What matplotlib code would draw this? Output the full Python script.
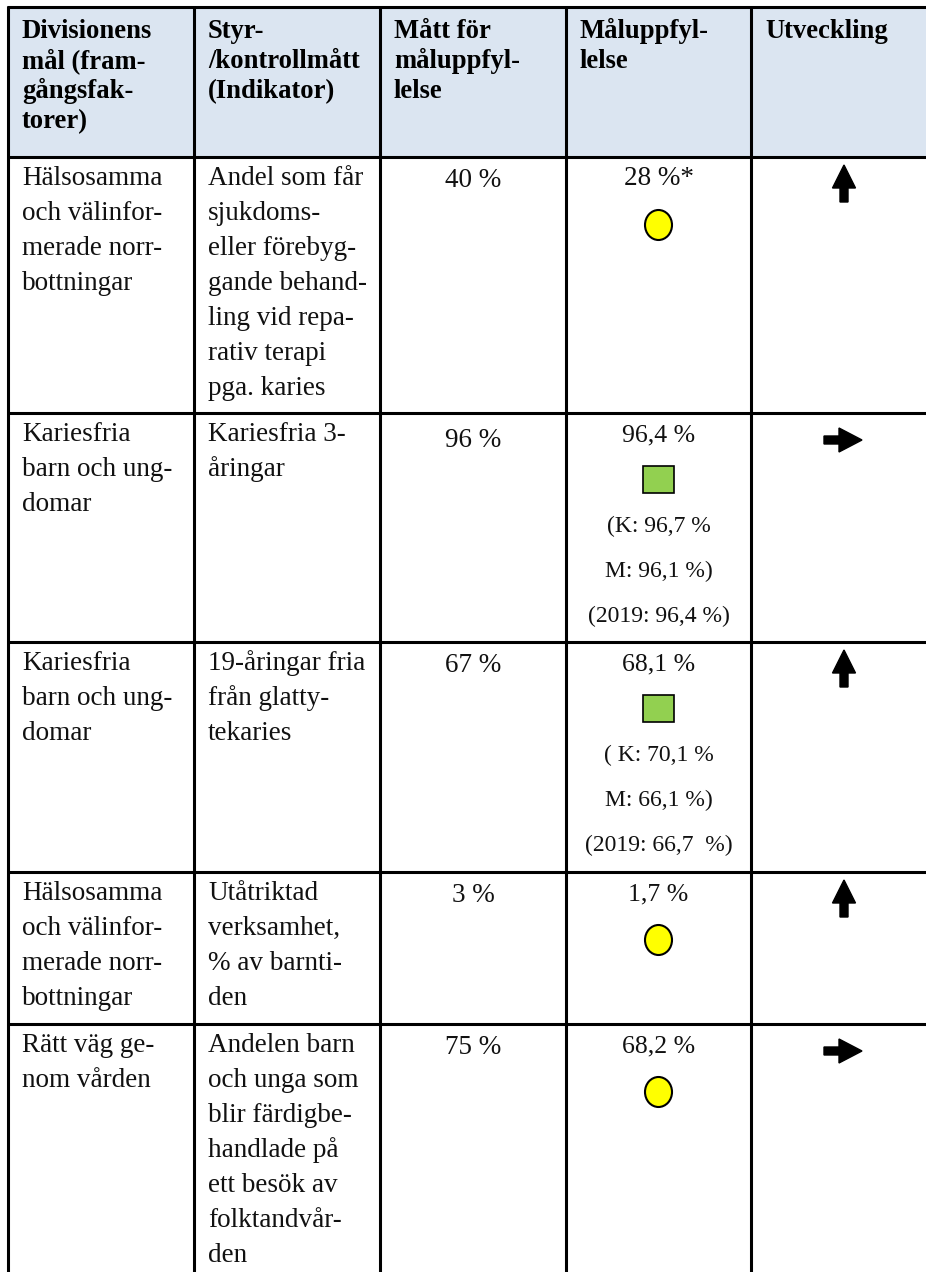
import matplotlib
matplotlib.use('Agg')
import matplotlib.pyplot as plt
from matplotlib.patches import Rectangle, Ellipse, FancyArrow

# table content
headers = [['Divisionens', 'mål (fram-', 'gångsfak-', 'torer)'],
           ['Styr-', '/kontrollmått', '(Indikator)'],
           ['Mått för', 'måluppfyl-', 'lelse'],
           ['Måluppfyl-', 'lelse'],
           ['Utveckling']]
goals = [['Hälsosamma', 'och välinfor-', 'merade norr-', 'bottningar'],
         ['Kariesfria', 'barn och ung-', 'domar'],
         ['Kariesfria', 'barn och ung-', 'domar'],
         ['Hälsosamma', 'och välinfor-', 'merade norr-', 'bottningar'],
         ['Rätt väg ge-', 'nom vården']]
indicators = [['Andel som får', 'sjukdoms-', 'eller förebyg-', 'gande behand-',
               'ling vid repa-', 'rativ terapi', 'pga. karies'],
              ['Kariesfria 3-', 'åringar'],
              ['19-åringar fria', 'från glatty-', 'tekaries'],
              ['Utåtriktad', 'verksamhet,', '% av barnti-', 'den'],
              ['Andelen barn', 'och unga som', 'blir färdigbe-', 'handlade på',
               'ett besök av', 'folktandvår-', 'den']]
targets = ['40 %', '96 %', '67 %', '3 %', '75 %']
results = ['28 %*', '96,4 %', '68,1 %', '1,7 %', '68,2 %']
details = [[], ['(K: 96,7 %', 'M: 96,1 %)', '(2019: 96,4 %)'],
           ['( K: 70,1 %', 'M: 66,1 %)', '(2019: 66,7  %)'], [], []]
status = ['circle', 'square', 'square', 'circle', 'circle']
trend = ['up', 'right', 'up', 'up', 'right']

# layout in pixels
W, H = 926, 1272
col_x = [8, 194, 380, 566, 751, 937]
row_y = [7, 157, 413, 642, 872, 1024, 1290]
pad = 14
serif = ['Liberation Serif', 'DejaVu Serif']
body_fs = 19.5
head_fs = 19.2
res_fs = 18.5
det_fs = 17
body_lh = 35
head_lh = 30

fig = plt.figure(figsize=(W / 100, H / 100), dpi=100)
ax = fig.add_axes([0, 0, 1, 1])
ax.set_xlim(0, W)
ax.set_ylim(H, 0)
ax.axis('off')

ax.add_patch(Rectangle((col_x[0], row_y[0]), col_x[-1] - col_x[0], row_y[1] - row_y[0],
                       facecolor='#dbe5f1', edgecolor='none', zorder=0))

lw = 2.2
for y in row_y[:-1]:
    ax.plot([col_x[0] - 1.5, col_x[-1]], [y, y], color='black', lw=lw, solid_capstyle='butt')
for x in col_x[:-1]:
    ax.plot([x, x], [row_y[0] - 1.5, row_y[-1]], color='black', lw=lw, solid_capstyle='butt')

# header
for c, lines in enumerate(headers):
    for k, s in enumerate(lines):
        ax.text(col_x[c] + pad, row_y[0] + 31 + k * head_lh, s, fontsize=head_fs,
                family=serif, fontweight='bold', va='baseline', ha='left')

for r in range(5):
    top = row_y[r + 1]
    for k, s in enumerate(goals[r]):
        ax.text(col_x[0] + pad, top + 28 + k * body_lh, s, fontsize=body_fs,
                family=serif, va='baseline', ha='left', color='#111111')
    for k, s in enumerate(indicators[r]):
        ax.text(col_x[1] + pad, top + 28 + k * body_lh, s, fontsize=body_fs,
                family=serif, va='baseline', ha='left', color='#111111')
    cx3 = (col_x[2] + col_x[3]) / 2
    cx4 = (col_x[3] + col_x[4]) / 2
    cx5 = (col_x[4] + col_x[5]) / 2
    ax.text(cx3, top + 30 + (4 if r == 1 else 0), targets[r], fontsize=body_fs,
            family=serif, va='baseline', ha='center', color='#111111')
    ax.text(cx4, top + 28, results[r], fontsize=res_fs if r else body_fs,
            family=serif, va='baseline', ha='center', color='#111111')
    if status[r] == 'circle':
        ax.add_patch(Ellipse((cx4, top + 68), 27, 30, facecolor='#ffff00',
                             edgecolor='black', lw=1.5, zorder=3))
    else:
        ax.add_patch(Rectangle((cx4 - 15.5, top + 66 - 13.5), 31, 27, facecolor='#92d050',
                               edgecolor='black', lw=1.2, zorder=3))
    for k, s in enumerate(details[r]):
        ax.text(cx4, top + 119 + k * 45, s, fontsize=det_fs,
                family=serif, va='baseline', ha='center', color='#111111')
    if trend[r] == 'up':
        ax.add_patch(FancyArrow(cx5, top + 45, 0, -37, width=8, head_width=23,
                                head_length=23, length_includes_head=True,
                                color='black', zorder=3))
    else:
        ax.add_patch(FancyArrow(cx5 - 20, top + 27, 38, 0, width=8, head_width=24,
                                head_length=23, length_includes_head=True,
                                color='black', zorder=3))

fig.savefig('out.png', dpi=100)
